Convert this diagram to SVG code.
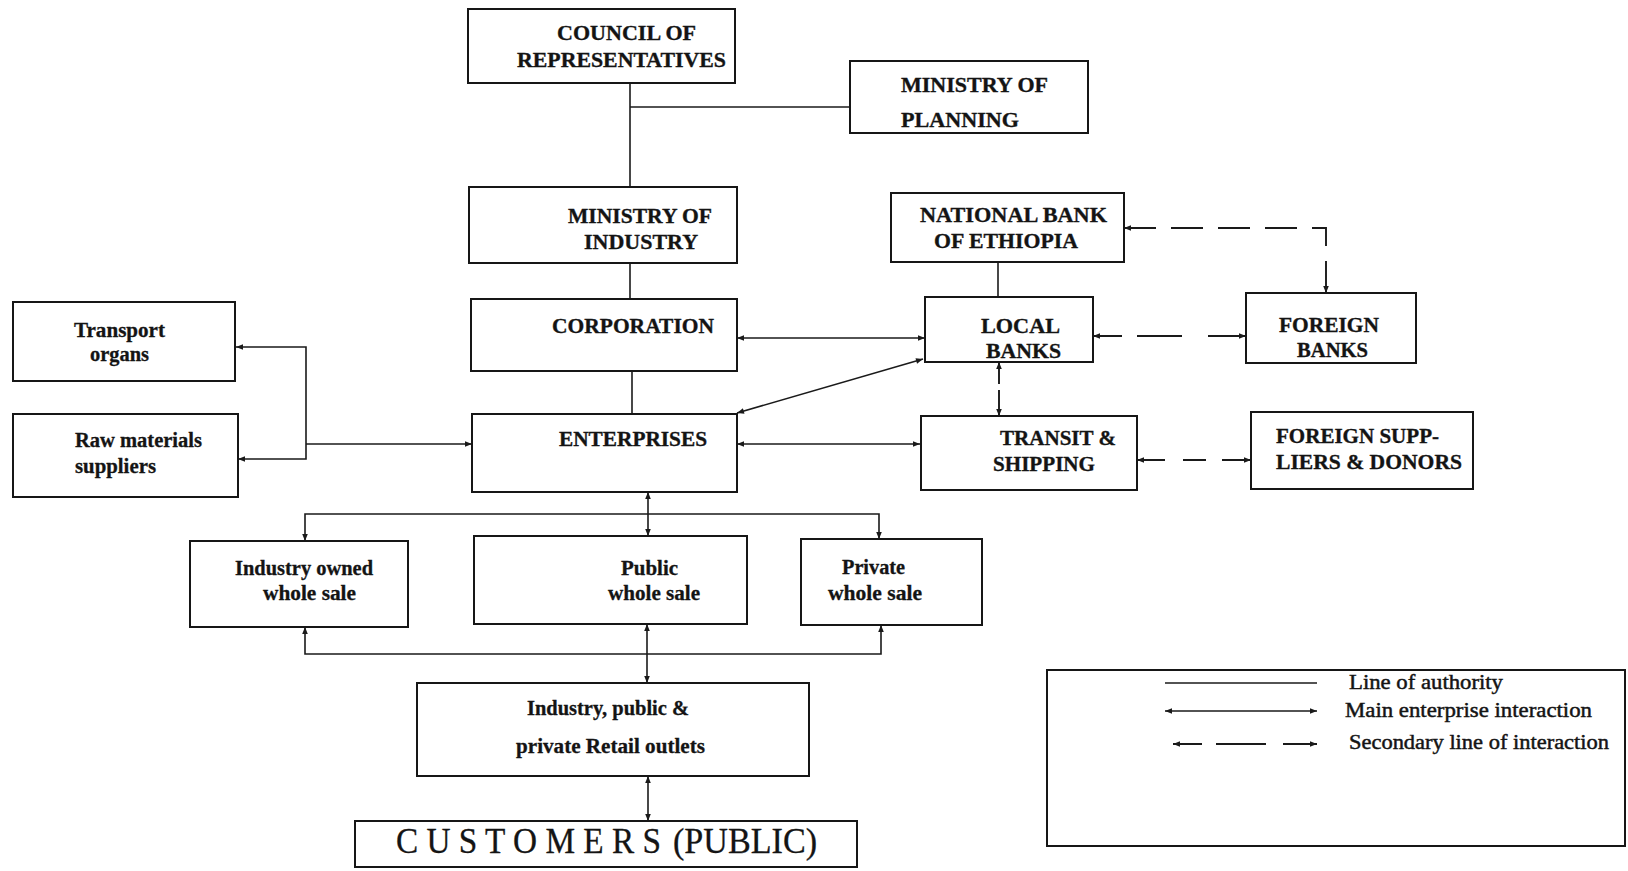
<svg xmlns="http://www.w3.org/2000/svg" width="1628" height="871" viewBox="0 0 1628 871">
  <style>
    .box { fill: #ffffff; stroke: #161616; stroke-width: 2; }
    .cap { font-family: "Liberation Serif", "Times New Roman", serif; font-weight: bold; font-size: 22px; fill: #141414; stroke: #141414; stroke-width: 0.35; }
    .low { font-family: "Liberation Serif", "Times New Roman", serif; font-weight: bold; font-size: 20px; fill: #141414; stroke: #141414; stroke-width: 0.3; }
    .leg { font-family: "Liberation Serif", "Times New Roman", serif; font-size: 20px; fill: #141414; stroke: #141414; stroke-width: 0.45; }
    .big { font-family: "Liberation Serif", "Times New Roman", serif; font-size: 35px; fill: #141414; stroke: #141414; stroke-width: 0.3; }
    .line { fill: none; stroke: #1a1a1a; stroke-width: 1.6; }
    .main { fill: none; stroke: #1a1a1a; stroke-width: 1.6; marker-start: url(#ah); marker-end: url(#ah); }
    .sec { fill: none; stroke: #1a1a1a; stroke-width: 1.9; marker-start: url(#ah); marker-end: url(#ah); }
  </style>
  <defs>
    <marker id="ah" viewBox="0 0 10 10" refX="10" refY="5" markerWidth="8" markerHeight="7" markerUnits="userSpaceOnUse" orient="auto-start-reverse">
      <path d="M0,1 L10,5 L0,9 z" fill="#1a1a1a"/>
    </marker>
  </defs>

  <rect width="1628" height="871" fill="#ffffff"/>

  <!-- connectors -->
  <g id="connectors">
    <!-- lines of authority -->
    <path class="line" d="M630,83 V188"/>
    <path class="line" d="M630,107 H850"/>
    <path class="line" d="M630,263 V299"/>
    <path class="line" d="M632,371 V414"/>
    <path class="line" d="M998,262 V297"/>

    <!-- main enterprise interactions -->
    <path class="main" d="M737,338 H925"/>
    <path class="main" d="M737,413 L923,359"/>
    <path class="main" d="M737,444 H920"/>
    <path class="main" d="M236,347 H306 V459 H238"/>
    <path class="line" d="M306,444 H472" marker-end="url(#ah)"/>
    <path class="main" d="M648,492 V536"/>
    <path class="main" d="M305,541 V514 H879 V539"/>
    <path class="main" d="M305,627 V654 H881 V625"/>
    <path class="main" d="M647,624 V683"/>
    <path class="main" d="M648,821 V776"/>

    <!-- secondary interactions -->
    <path class="sec" d="M1124,228 H1326 V293" stroke-dasharray="32 15"/>
    <path class="sec" d="M1093,336 H1246" stroke-dasharray="29 15 45 26 38"/>
    <path class="sec" d="M999,362 V416" stroke-dasharray="22 6 26"/>
    <path class="sec" d="M1137,460 H1251" stroke-dasharray="28 18 23 16 29"/>
  </g>

  <!-- nodes -->
  <g id="council">
    <rect class="box" x="468" y="9" width="267" height="74"/>
    <text class="cap" x="557" y="40" textLength="139" lengthAdjust="spacingAndGlyphs">COUNCIL OF</text>
    <text class="cap" x="517" y="67" textLength="209" lengthAdjust="spacingAndGlyphs">REPRESENTATIVES</text>
  </g>

  <g id="ministry-planning">
    <rect class="box" x="850" y="61" width="238" height="72"/>
    <text class="cap" x="901" y="92" textLength="147" lengthAdjust="spacingAndGlyphs">MINISTRY OF</text>
    <text class="cap" x="901" y="127" textLength="118" lengthAdjust="spacingAndGlyphs">PLANNING</text>
  </g>

  <g id="ministry-industry">
    <rect class="box" x="469" y="187" width="268" height="76"/>
    <text class="cap" x="568" y="223" textLength="144" lengthAdjust="spacingAndGlyphs">MINISTRY OF</text>
    <text class="cap" x="584" y="249" textLength="114" lengthAdjust="spacingAndGlyphs">INDUSTRY</text>
  </g>

  <g id="national-bank">
    <rect class="box" x="891" y="193" width="233" height="69"/>
    <text class="cap" x="920" y="222" textLength="187" lengthAdjust="spacingAndGlyphs">NATIONAL BANK</text>
    <text class="cap" x="934" y="248" textLength="144" lengthAdjust="spacingAndGlyphs">OF ETHIOPIA</text>
  </g>

  <g id="corporation">
    <rect class="box" x="471" y="299" width="266" height="72"/>
    <text class="cap" x="552" y="333" textLength="162" lengthAdjust="spacingAndGlyphs">CORPORATION</text>
  </g>

  <g id="local-banks">
    <rect class="box" x="925" y="297" width="168" height="65"/>
    <text class="cap" x="981" y="333" textLength="79" lengthAdjust="spacingAndGlyphs">LOCAL</text>
    <text class="cap" x="986" y="358" textLength="75" lengthAdjust="spacingAndGlyphs">BANKS</text>
  </g>

  <g id="foreign-banks">
    <rect class="box" x="1246" y="293" width="170" height="70"/>
    <text class="cap" x="1279" y="332" textLength="100" lengthAdjust="spacingAndGlyphs">FOREIGN</text>
    <text class="cap" x="1297" y="357" textLength="71" lengthAdjust="spacingAndGlyphs">BANKS</text>
  </g>

  <g id="transport">
    <rect class="box" x="13" y="302" width="222" height="79"/>
    <text class="low" x="74" y="337" textLength="91" lengthAdjust="spacingAndGlyphs">Transport</text>
    <text class="low" x="90" y="361" textLength="59" lengthAdjust="spacingAndGlyphs">organs</text>
  </g>

  <g id="raw-materials">
    <rect class="box" x="13" y="414" width="225" height="83"/>
    <text class="low" x="75" y="447" textLength="127" lengthAdjust="spacingAndGlyphs">Raw materials</text>
    <text class="low" x="75" y="473" textLength="81" lengthAdjust="spacingAndGlyphs">suppliers</text>
  </g>

  <g id="enterprises">
    <rect class="box" x="472" y="414" width="265" height="78"/>
    <text class="cap" x="559" y="446" textLength="148" lengthAdjust="spacingAndGlyphs">ENTERPRISES</text>
  </g>

  <g id="transit">
    <rect class="box" x="921" y="416" width="216" height="74"/>
    <text class="cap" x="1000" y="445" textLength="116" lengthAdjust="spacingAndGlyphs">TRANSIT &amp;</text>
    <text class="cap" x="993" y="471" textLength="102" lengthAdjust="spacingAndGlyphs">SHIPPING</text>
  </g>

  <g id="foreign-suppliers">
    <rect class="box" x="1251" y="412" width="222" height="77"/>
    <text class="cap" x="1276" y="443" textLength="163" lengthAdjust="spacingAndGlyphs">FOREIGN SUPP-</text>
    <text class="cap" x="1276" y="469" textLength="186" lengthAdjust="spacingAndGlyphs">LIERS &amp; DONORS</text>
  </g>

  <g id="industry-wholesale">
    <rect class="box" x="190" y="541" width="218" height="86"/>
    <text class="low" x="235" y="575" textLength="138" lengthAdjust="spacingAndGlyphs">Industry owned</text>
    <text class="low" x="263" y="600" textLength="93" lengthAdjust="spacingAndGlyphs">whole sale</text>
  </g>

  <g id="public-wholesale">
    <rect class="box" x="474" y="536" width="273" height="88"/>
    <text class="low" x="621" y="575" textLength="57" lengthAdjust="spacingAndGlyphs">Public</text>
    <text class="low" x="608" y="600" textLength="92" lengthAdjust="spacingAndGlyphs">whole sale</text>
  </g>

  <g id="private-wholesale">
    <rect class="box" x="801" y="539" width="181" height="86"/>
    <text class="low" x="842" y="574" textLength="63" lengthAdjust="spacingAndGlyphs">Private</text>
    <text class="low" x="828" y="600" textLength="94" lengthAdjust="spacingAndGlyphs">whole sale</text>
  </g>

  <g id="retail">
    <rect class="box" x="417" y="683" width="392" height="93"/>
    <text class="low" x="527" y="715" textLength="162" lengthAdjust="spacingAndGlyphs">Industry, public &amp;</text>
    <text class="low" x="516" y="753" textLength="189" lengthAdjust="spacingAndGlyphs">private Retail outlets</text>
  </g>

  <g id="customers">
    <rect class="box" x="355" y="821" width="502" height="46"/>
    <text class="big" y="853"><tspan x="396" textLength="265" lengthAdjust="spacingAndGlyphs">C U S T O M E R S</tspan><tspan x="673" textLength="144" lengthAdjust="spacingAndGlyphs">(PUBLIC)</tspan></text>
  </g>

  <!-- key -->
  <g id="legend">
    <rect class="box" x="1047" y="670" width="578" height="176"/>
    <path class="line" d="M1165,683 H1317"/>
    <path class="main" d="M1165,711 H1317"/>
    <path class="sec" d="M1173,744 H1317" stroke-dasharray="29 14 50 17 34"/>
    <text class="leg" x="1349" y="689" textLength="154" lengthAdjust="spacingAndGlyphs">Line of authority</text>
    <text class="leg" x="1345" y="717" textLength="247" lengthAdjust="spacingAndGlyphs">Main enterprise interaction</text>
    <text class="leg" x="1349" y="749" textLength="260" lengthAdjust="spacingAndGlyphs">Secondary line of interaction</text>
  </g>
</svg>
